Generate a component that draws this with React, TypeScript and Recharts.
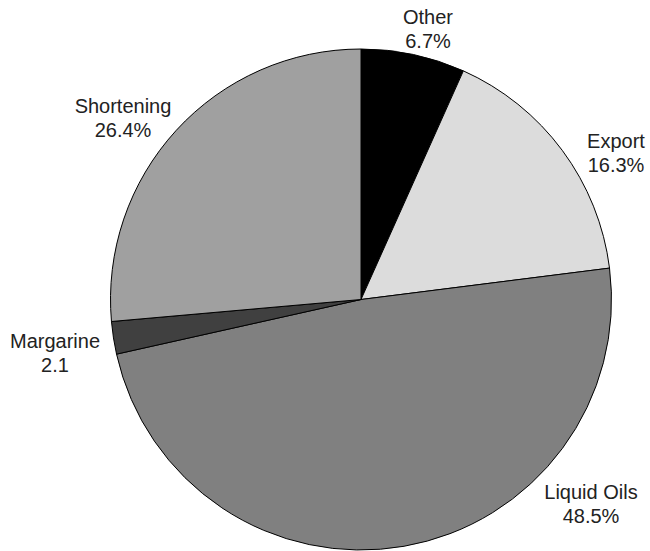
import { PieChart, Pie, Cell } from 'recharts'

const categories = ['Other', 'Export', 'Liquid Oils', 'Margarine', 'Shortening']
const values = [6.7, 16.3, 48.5, 2.1, 26.4]
const valueLabels = ['6.7%', '16.3%', '48.5%', '2.1', '26.4%']

const colors = ['#000000', '#dcdcdc', '#808080', '#404040', '#a0a0a0']

// label anchor (centre x, first baseline) relative to the pie centre
const labelOffsets: [number, number][] = [
  [67, -276],
  [255, -152],
  [230, 199],
  [-306, 48],
  [-238, -187],
]

const data = categories.map((name, i) => ({ name, value: values[i], text: valueLabels[i] }))

// eslint-disable-next-line @typescript-eslint/no-explicit-any
const renderLabel = (props: any) => {
  const { cx, cy, index } = props
  const [dx, dy] = labelOffsets[index]
  const x = cx + dx
  const y = cy + dy
  return (
    <text
      x={x}
      y={y}
      textAnchor="middle"
      fill="#222222"
      fontSize={20}
      fontFamily="'Liberation Sans', Arial, sans-serif"
    >
      <tspan x={x} y={y}>{categories[index]}</tspan>
      <tspan x={x} y={y + 24}>{valueLabels[index]}</tspan>
    </text>
  )
}

export default function App() {
  return (
    <div style={{ position: 'absolute', left: 0, top: 0, background: '#fff' }}>
      <PieChart width={650} height={551} margin={{ top: 0, right: 0, bottom: 0, left: 0 }}>
        <Pie
          data={data}
          dataKey="value"
          nameKey="name"
          cx={361}
          cy={299.5}
          outerRadius={250.5}
          startAngle={90}
          endAngle={-270}
          stroke="#000000"
          strokeWidth={1}
          label={renderLabel}
          labelLine={false}
          isAnimationActive={false}
        >
          {data.map((d, i) => (
            <Cell key={d.name} fill={colors[i]} />
          ))}
        </Pie>
      </PieChart>
    </div>
  )
}
